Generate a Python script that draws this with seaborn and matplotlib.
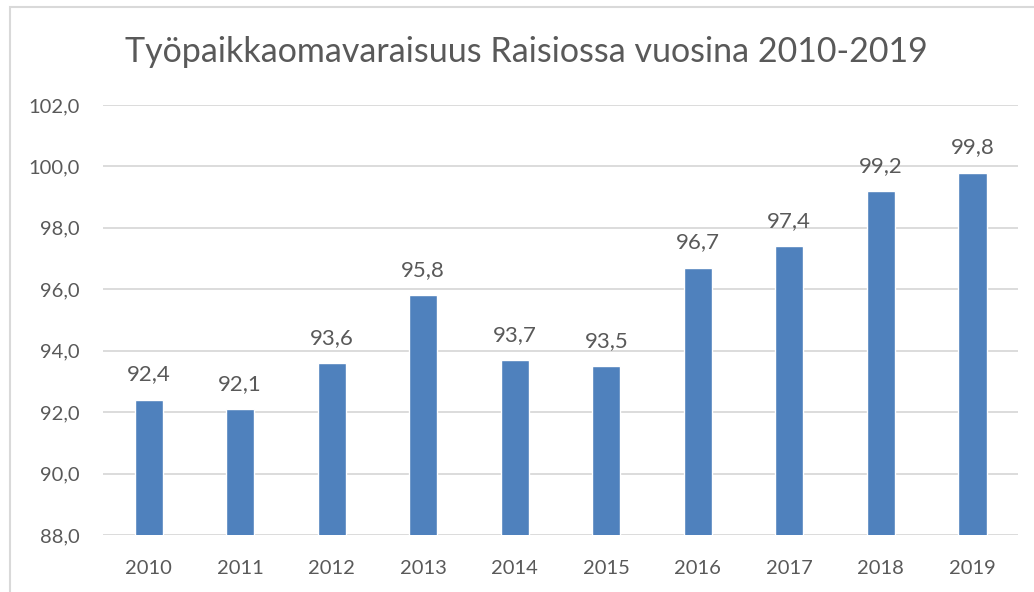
import matplotlib
matplotlib.use("Agg")
import matplotlib.pyplot as plt
import seaborn as sns
import pandas as pd
from matplotlib.patches import Rectangle
from matplotlib.ticker import FuncFormatter

years = ["2010", "2011", "2012", "2013", "2014", "2015", "2016", "2017", "2018", "2019"]
values = [92.4, 92.1, 93.6, 95.8, 93.7, 93.5, 96.7, 97.4, 99.2, 99.8]
title = "Työpaikkaomavaraisuus Raisiossa vuosina 2010-2019"

sns.set_theme(style="white")
plt.rcParams["font.family"] = ["Lato", "DejaVu Sans"]

text_color = "#595959"
grid_color = "#d9d9d9"
bar_color = "#4F81BD"

df = pd.DataFrame({"year": years, "value": values})

fig = plt.figure(figsize=(10.34, 5.92), dpi=100)
ax = fig.add_axes([0.0996, 0.0963, 0.885, 0.7263])

sns.barplot(data=df, x="year", y="value", color=bar_color, width=0.31,
            saturation=1, ax=ax, zorder=3)

ax.set_ylim(88, 102)
ax.set_yticks([88, 90, 92, 94, 96, 98, 100, 102])
ax.yaxis.set_major_formatter(FuncFormatter(lambda v, p: f"{v:.1f}".replace(".", ",")))
ax.grid(axis="y", color=grid_color, linewidth=1.3, zorder=0)
ax.set_axisbelow(True)
for s in ax.spines.values():
    s.set_visible(False)
ax.set_xlabel("")
ax.set_ylabel("")
ax.tick_params(axis="both", length=0, labelsize=14.5, colors=text_color)
ax.tick_params(axis="x", pad=18)
ax.tick_params(axis="y", pad=16.5)

for c in ax.containers:
    ax.bar_label(c, labels=[f"{v:.1f}".replace(".", ",") for v in values],
                 padding=11, fontsize=16, color=text_color)

fig.text(0.5095, 0.913, title, ha="center", va="center", fontsize=24.5, color=text_color)

fig.patches.append(Rectangle((10 / 1034, -0.2), 1.2, 1.2 - 7 / 592,
                             transform=fig.transFigure, fill=False,
                             edgecolor=grid_color, linewidth=1.5, figure=fig))

fig.savefig("out.png", dpi=100)
